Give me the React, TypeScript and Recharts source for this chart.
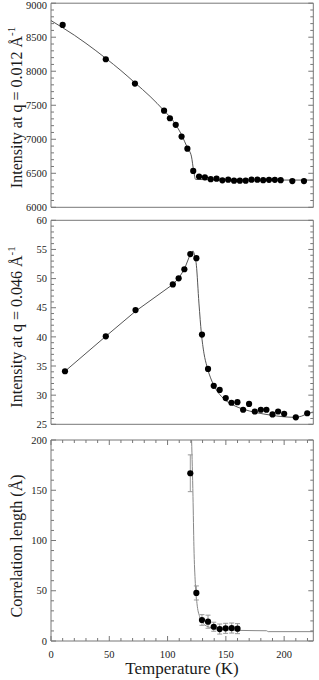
import React from 'react';
import { ComposedChart, Line, XAxis, YAxis, ReferenceArea, ErrorBar } from 'recharts';

// ---------- data ----------
// Panel 1: Intensity at q = 0.012 Å^-1
const P1_T = [10, 47, 72, 97, 102, 107, 112, 117, 122, 127, 132, 137, 142, 147, 152, 157, 162, 167, 172, 177, 182, 187, 192, 197, 207, 217];
const P1_I = [8681, 8176, 7819, 7420, 7309, 7212, 7040, 6862, 6535, 6453, 6440, 6414, 6421, 6396, 6406, 6391, 6391, 6391, 6406, 6406, 6399, 6404, 6404, 6399, 6385, 6385];
const P1_FIT_T = [0, 10, 20, 30, 47, 60, 72, 85, 97, 105, 112, 117, 120.4, 122.4, 124, 140, 170, 225];
const P1_FIT_I = [8745, 8640, 8530, 8410, 8190, 8010, 7830, 7630, 7420, 7265, 7065, 6875, 6753, 6533, 6411, 6404, 6401, 6400];

// Panel 2: Intensity at q = 0.046 Å^-1
const P2_T = [12, 47, 72.5, 104.5, 109.5, 114.4, 119.5, 124.7, 129.5, 134.7, 139.6, 144.7, 149.9, 154.8, 159.9, 164.8, 169.9, 174.8, 180, 184.8, 190, 194.8, 200, 210, 219.8];
const P2_I = [34.1, 40.1, 44.6, 49.0, 50.05, 51.6, 54.2, 53.5, 40.4, 34.5, 31.6, 30.9, 29.5, 28.7, 28.8, 27.5, 28.5, 27.2, 27.5, 27.5, 26.7, 27.2, 26.8, 26.2, 26.9];
// rising part (straight segments) and falling part (smooth)
const P2_RISE_T = [12, 47, 72.5, 104.5, 109.5, 114.4, 119.5, 121.8];
const P2_RISE_I = [34.1, 40.1, 44.4, 49.0, 50.05, 51.6, 54.2, 54.75];
const P2_FALL_T = [121.8, 122.6, 124.7, 126.9, 129, 131.2, 133.8, 137.6, 141.9, 147.6, 156.2, 164.8, 176.3, 187.7, 199.1, 209.2, 215, 220.6, 225];
const P2_FALL_I = [54.75, 54.4, 52.3, 45.8, 40.6, 37.2, 34.9, 32.6, 30.9, 29.5, 28.3, 27.6, 27.0, 26.6, 26.3, 26.2, 26.4, 26.9, 27.1];

// Panel 3: Correlation length (Å)
const P3_T = [119.5, 124.7, 129.5, 134.7, 139.6, 144.7, 149.8, 155, 160];
const P3_XI = [166.9, 47.8, 20.9, 19.2, 14.2, 11.9, 12.6, 12.9, 12.3];
const P3_ERR = [18.3, 7, 5.3, 6.5, 4.5, 5, 5, 5, 5];
const P3_FIT_T = [120.6, 121.8, 122.6, 123.8, 125.2, 127.5, 130.4, 136.1, 144.7, 159, 175, 184.9, 186.3, 225];
const P3_FIT_XI = [200, 143.6, 93.8, 57.4, 37.5, 24.2, 17.6, 13.6, 11.6, 10.6, 10.3, 10.2, 9.3, 9.3];

// ticks
const X_TICKS = [0, 10, 20, 30, 40, 50, 60, 70, 80, 90, 100, 110, 120, 130, 140, 150, 160, 170, 180, 190, 200, 210, 220];
const X_LABELS = [0, 50, 100, 150, 200];
const P1_LABELS = [6000, 6500, 7000, 7500, 8000, 8500, 9000];
const P2_LABELS = [25, 30, 35, 40, 45, 50, 55, 60];
const P3_LABELS = [0, 50, 100, 150, 200];

const steps = (a: number, b: number, s: number) => {
  const out: number[] = [];
  for (let v = a; v <= b + 1e-9; v += s) out.push(Math.round(v * 1000) / 1000);
  return out;
};
const P1_TICKS = steps(6000, 9000, 100);
const P2_TICKS = steps(25, 60, 1);
const P3_TICKS = steps(0, 200, 10);

const zip = (t: number[], v: number[], e?: number[]) =>
  t.map((T, i) => (e ? { T, v: v[i], e: e[i] } : { T, v: v[i] }));

const P1_PTS = zip(P1_T, P1_I);
const P1_FIT = zip(P1_FIT_T, P1_FIT_I);
const P2_PTS = zip(P2_T, P2_I);
const P2_RISE = zip(P2_RISE_T, P2_RISE_I);
const P2_FALL = zip(P2_FALL_T, P2_FALL_I);
const P3_PTS = zip(P3_T, P3_XI, P3_ERR);
const P3_FIT = zip(P3_FIT_T, P3_FIT_XI);

// ---------- style ----------
const W = 319;
const PL = 51;
const PR = 313.3;
const AXIS = '#777';
const FONT = '"Liberation Serif", "Times New Roman", serif';
const TXT = '#1a1a1a';

const makeYTick = (labels: number[]) => (props: any) => {
  const { y, payload } = props;
  const v = payload.value;
  const major = labels.includes(v);
  const len = major ? 5 : 3;
  return (
    <g>
      <line x1={PL} x2={PL + len} y1={y} y2={y} stroke={AXIS} strokeWidth={1} />
      <line x1={PR - len} x2={PR} y1={y} y2={y} stroke={AXIS} strokeWidth={1} />
      {major && (
        <text x={PL - 4} y={Math.max(y, 5)} dy="0.35em" textAnchor="end" fontFamily={FONT} fontSize={10.5} fill={TXT}>
          {v}
        </text>
      )}
    </g>
  );
};

const makeXTick = (top: number, showLabels: boolean) => (props: any) => {
  const { x, y, payload } = props;
  const v = payload.value;
  const major = X_LABELS.includes(v);
  const len = major ? 5 : 3;
  return (
    <g>
      <line x1={x} x2={x} y1={y} y2={y - len} stroke={AXIS} strokeWidth={1} />
      <line x1={x} x2={x} y1={top} y2={top + len} stroke={AXIS} strokeWidth={1} />
      {showLabels && major && (
        <text x={x} y={y + 17} textAnchor="middle" fontFamily={FONT} fontSize={10.5} fill={TXT}>
          {v}
        </text>
      )}
    </g>
  );
};

const yTitle = (cy: number, main: string, sup?: string) => () => {
  const cx = 22;
  return (
    <text
      x={cx}
      y={cy}
      transform={`rotate(-90 ${cx} ${cy})`}
      textAnchor="middle"
      fontFamily={FONT}
      fontSize={16}
      fill={TXT}
    >
      {main}
      {sup && (
        <tspan dy={-7} fontSize={11}>
          {sup}
        </tspan>
      )}
    </text>
  );
};

const xTitle = () => (
  <text x={182} y={244} textAnchor="middle" fontFamily={FONT} fontSize={17} fill={TXT}>
    Temperature (K)
  </text>
);

type Series = { data: any[]; color: string; type: 'linear' | 'monotone' };

type PanelProps = {
  top: number;
  height: number;
  marginTop: number;
  marginBottom: number;
  xHeight: number;
  domain: [number, number];
  yTicks: number[];
  yLabels: number[];
  title: () => React.ReactElement;
  showX: boolean;
  fits: Series[];
  pts: any[];
  errors?: boolean;
};

const Panel = (p: PanelProps) => {
  const plotTop = p.marginTop;
  return (
    <div style={{ position: 'absolute', left: 0, top: p.top, width: W, height: p.height }}>
      <ComposedChart
        width={W}
        height={p.height}
        margin={{ top: p.marginTop, right: W - PR, bottom: p.marginBottom, left: 0 }}
      >
        <XAxis
          type="number"
          dataKey="T"
          domain={[0, 225]}
          ticks={X_TICKS}
          interval={0}
          allowDataOverflow
          axisLine={false}
          tickLine={false}
          tickSize={0}
          tickMargin={0}
          height={p.xHeight}
          tick={makeXTick(plotTop, p.showX)}
          label={p.showX ? xTitle : undefined}
        />
        <YAxis
          type="number"
          domain={p.domain}
          ticks={p.yTicks}
          interval={0}
          allowDataOverflow
          axisLine={false}
          tickLine={false}
          tickSize={0}
          tickMargin={0}
          width={PL}
          tick={makeYTick(p.yLabels)}
          label={p.title}
        />
        <ReferenceArea
          x1={0}
          x2={225}
          y1={p.domain[0]}
          y2={p.domain[1]}
          fill="none"
          fillOpacity={0}
          stroke={AXIS}
          strokeWidth={1}
        />
        {p.fits.map((s, i) => (
          <Line
            key={i}
            data={s.data}
            dataKey="v"
            type={s.type}
            stroke={s.color}
            strokeWidth={1}
            dot={false}
            activeDot={false}
            isAnimationActive={false}
          />
        ))}
        <Line
          data={p.pts}
          dataKey="v"
          stroke="none"
          dot={{ r: 3.1, fill: '#000', stroke: 'none' }}
          activeDot={false}
          isAnimationActive={false}
        >
          {p.errors && <ErrorBar dataKey="e" width={2.5} stroke="#9a9a9a" strokeWidth={1} direction="y" />}
        </Line>
      </ComposedChart>
    </div>
  );
};

export default function App() {
  return (
    <div style={{ position: 'absolute', left: 0, top: 0, width: W, height: 680, background: '#fff', overflow: 'hidden' }}>
      <Panel
        top={0}
        height={216}
        marginTop={3.2}
        marginBottom={8.7}
        xHeight={0}
        domain={[6000, 9000]}
        yTicks={P1_TICKS}
        yLabels={P1_LABELS}
        title={yTitle(107.5, 'Intensity at q = 0.012 Å', '-1')}
        showX={false}
        fits={[{ data: P1_FIT, color: '#555', type: 'monotone' }]}
        pts={P1_PTS}
      />
      <Panel
        top={210}
        height={222}
        marginTop={10.3}
        marginBottom={7.7}
        xHeight={0}
        domain={[25, 60]}
        yTicks={P2_TICKS}
        yLabels={P2_LABELS}
        title={yTitle(117, 'Intensity at q = 0.046 Å', '-1')}
        showX={false}
        fits={[
          { data: P2_RISE, color: '#555', type: 'linear' },
          { data: P2_FALL, color: '#555', type: 'monotone' },
        ]}
        pts={P2_PTS}
      />
      <Panel
        top={430}
        height={250}
        marginTop={10}
        marginBottom={0}
        xHeight={39}
        domain={[0, 200]}
        yTicks={P3_TICKS}
        yLabels={P3_LABELS}
        title={yTitle(116, 'Correlation length (Å)')}
        showX={true}
        fits={[{ data: P3_FIT, color: '#888', type: 'monotone' }]}
        pts={P3_PTS}
        errors
      />
    </div>
  );
}
